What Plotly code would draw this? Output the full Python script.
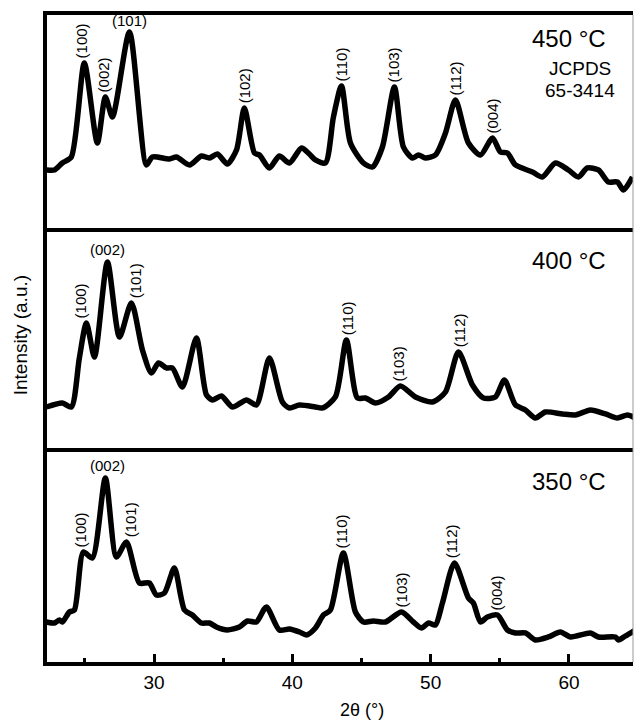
import plotly.graph_objects as go

# ---------------- data (2θ in degrees, intensity in a.u.) ----------------
tt_450 = [22.22, 22.80, 23.37, 24.02, 24.96, 25.90, 26.48, 26.99, 28.22, 29.45, 29.88, 31.11,
          31.62, 32.56, 33.42, 34.00, 34.58, 35.30, 35.96, 36.53, 37.26, 37.62, 38.34, 39.06,
          39.79, 40.66, 41.23, 41.67, 42.39, 42.97, 43.55, 44.20, 45.14, 45.79, 46.51, 47.38,
          48.03, 48.68, 49.12, 49.62, 50.34, 51.07, 51.79, 52.73, 53.60, 54.47, 55.04, 55.55,
          56.13, 57.36, 58.08, 59.02, 59.96, 60.68, 61.33, 62.13, 62.85, 63.50, 63.94, 64.59]
int_450 = [60, 60, 67, 73, 167, 87, 133, 113, 198, 65, 73, 71,
           73, 65, 74, 72, 76, 66, 80, 122, 77, 75, 62, 74,
           67, 82, 76, 70, 67, 113, 144, 87, 67, 63, 83, 143,
           83, 72, 75, 72, 75, 97, 130, 87, 75, 92, 78, 77,
           65, 58, 53, 67, 60, 53, 62, 60, 48, 48, 40, 53]

tt_400 = [22.22, 23.37, 24.02, 24.60, 25.11, 25.69, 26.63, 27.50, 28.36, 29.16, 29.81, 30.32,
          30.89, 31.33, 32.05, 33.06, 33.79, 34.22, 34.87, 35.67, 36.68, 37.40, 38.34, 39.28,
          39.79, 40.51, 41.67, 42.17, 43.11, 43.91, 44.70, 45.28, 46.01, 46.95, 47.81, 48.90,
          50.13, 51.07, 52.01, 53.02, 53.82, 54.68, 55.33, 56.13, 56.85, 57.57, 58.30, 59.53,
          60.47, 61.55, 62.64, 63.50, 64.23, 64.80]
int_400 = [43, 47, 43, 92, 127, 93, 188, 113, 147, 100, 77, 87,
           82, 82, 63, 112, 55, 50, 54, 43, 50, 45, 92, 48,
           42, 45, 43, 42, 53, 110, 52, 52, 47, 53, 64, 53,
           48, 58, 98, 65, 52, 53, 70, 45, 40, 32, 38, 36,
           35, 40, 36, 32, 35, 32]

tt_350 = [22.22, 22.80, 23.16, 23.37, 23.88, 24.24, 24.89, 25.54, 26.48, 27.28, 28.00, 28.94,
          29.66, 30.17, 30.75, 31.47, 32.20, 32.77, 33.42, 34.00, 34.51, 35.30, 36.17, 36.75,
          37.40, 38.12, 39.06, 39.79, 40.51, 41.02, 41.67, 42.25, 42.75, 43.69, 44.56, 45.14,
          45.86, 46.73, 47.89, 48.75, 49.33, 49.84, 50.34, 50.85, 51.72, 52.73, 53.09, 53.60,
          54.10, 54.83, 55.55, 56.13, 56.85, 57.57, 58.51, 59.38, 60.11, 61.55, 62.13, 63.36,
          63.58, 64.08, 64.80]
int_350 = [41, 40, 43, 41, 51, 53, 111, 105, 185, 106, 121, 80,
           80, 68, 70, 95, 53, 48, 40, 40, 36, 33, 36, 42,
           41, 56, 33, 34, 31, 28, 35, 48, 53, 110, 51, 41,
           42, 41, 51, 41, 35, 40, 38, 60, 100, 65, 60, 41,
           46, 48, 33, 30, 30, 23, 26, 31, 26, 30, 26, 26,
           23, 27, 33]

# peak labels: (hkl, 2θ, peak intensity)
hkl_450 = ["(100)", "(002)", "(101)", "(102)", "(110)", "(103)", "(112)", "(004)"]
pos_450 = [24.75, 26.34, 28.22, 36.53, 43.55, 47.31, 51.79, 54.47]
pk_450 = [167, 133, 198, 122, 144, 143, 130, 92]

hkl_400 = ["(100)", "(002)", "(101)", "(110)", "(103)", "(112)"]
pos_400 = [24.75, 26.63, 28.72, 44.05, 47.74, 52.15]
pk_400 = [127, 188, 147, 110, 64, 98]

hkl_350 = ["(100)", "(002)", "(101)", "(110)", "(103)", "(112)", "(004)"]
pos_350 = [24.75, 26.63, 28.36, 43.62, 47.96, 51.57, 54.83]
pk_350 = [111, 185, 121, 110, 51, 100, 48]

temps = ["450 °C", "400 °C", "350 °C"]
x_ticks = [30, 40, 50, 60]
x_minor = [25, 35, 45, 55]

# ---------------- figure ----------------
FONT = "Liberation Sans, Arial, Helvetica, sans-serif"
fig = go.Figure()

panels = [
    (tt_450, int_450, "3", hkl_450, pos_450, pk_450),
    (tt_400, int_400, "2", hkl_400, pos_400, pk_400),
    (tt_350, int_350, "", hkl_350, pos_350, pk_350),
]

for xs, ys, sfx, hkls, poss, pks in panels:
    fig.add_trace(go.Scatter(
        x=xs, y=ys, mode="lines", xaxis="x" + sfx, yaxis="y" + sfx,
        line=dict(color="black", width=5.5, shape="spline", smoothing=0.7),
        showlegend=False, hoverinfo="skip"))
    for lab, px, pk in zip(hkls, poss, pks):
        horiz = (lab == "(101)" and sfx == "3") or (lab == "(002)" and sfx != "3")
        fig.add_annotation(
            x=px, y=pk, xref="x" + sfx, yref="y" + sfx, text=lab, showarrow=False,
            textangle=0 if horiz else -90, xanchor="center", yanchor="middle",
            yshift=12 if horiz else 22,
            font=dict(family=FONT, size=15, color="black"))

d1, d2 = 0.3308, 0.6708
xr = [22.26, 64.63]
common_y = dict(showline=True, linewidth=4, linecolor="black", showticklabels=False,
                ticks="", showgrid=False, zeroline=False)
fig.update_layout(
    width=636, height=721,
    margin=dict(l=47, r=3, t=15, b=59),
    paper_bgcolor="white", plot_bgcolor="white",
    font=dict(family=FONT, size=19, color="black"),
    xaxis=dict(domain=[0, 1], range=xr, anchor="y", showline=True, linewidth=4,
               linecolor="black", showgrid=False, zeroline=False,
               tickmode="array", tickvals=x_ticks, ticks="inside", ticklen=8,
               tickwidth=3, tickcolor="black", tickfont=dict(size=19),
               minor=dict(tickmode="array", tickvals=x_minor, ticks="inside",
                          ticklen=4, tickwidth=3, tickcolor="black")),
    xaxis2=dict(domain=[0, 1], range=xr, anchor="y2", showline=True, linewidth=4,
                linecolor="black", showgrid=False, zeroline=False, showticklabels=False,
                ticks=""),
    xaxis3=dict(domain=[0, 1], range=xr, anchor="y3", showline=True, linewidth=4,
                linecolor="black", mirror=True, showgrid=False, zeroline=False,
                showticklabels=False, ticks=""),
    yaxis=dict(domain=[0, d1], range=[1, 215], anchor="x", **common_y),
    yaxis2=dict(domain=[d1, d2], range=[2, 222], anchor="x2", **common_y),
    yaxis3=dict(domain=[d2, 1], range=[2, 215], anchor="x3", **common_y),
)

# right frame edge (thin grey)
fig.add_shape(type="line", xref="paper", yref="paper", x0=1, x1=1, y0=0, y1=1,
              line=dict(color="#999999", width=1))

# temperature labels and JCPDS reference
for t, ax, yv in zip(temps, ["3", "2", ""], [192, 189, 181]):
    fig.add_annotation(x=60.0, y=yv, xref="x" + ax, yref="y" + ax, text=t, showarrow=False,
                       xanchor="center", yanchor="middle",
                       font=dict(family=FONT, size=24, color="black"))
fig.add_annotation(x=60.83, y=162, xref="x3", yref="y3", text="JCPDS", showarrow=False,
                   xanchor="center", yanchor="middle", font=dict(family=FONT, size=19))
fig.add_annotation(x=60.83, y=140, xref="x3", yref="y3", text="65-3414", showarrow=False,
                   xanchor="center", yanchor="middle", font=dict(family=FONT, size=19))

# axis titles
fig.add_annotation(x=-0.046, y=0.505, xref="paper", yref="paper", text="Intensity (a.u.)",
                   showarrow=False, textangle=-90, xanchor="center", yanchor="middle",
                   font=dict(family=FONT, size=19))
fig.add_annotation(text="2θ (°)", x=0.538, y=-0.074, xref="paper", yref="paper",
                   showarrow=False, xanchor="center", yanchor="middle",
                   font=dict(family=FONT, size=18))

fig.write_html("out.html")
